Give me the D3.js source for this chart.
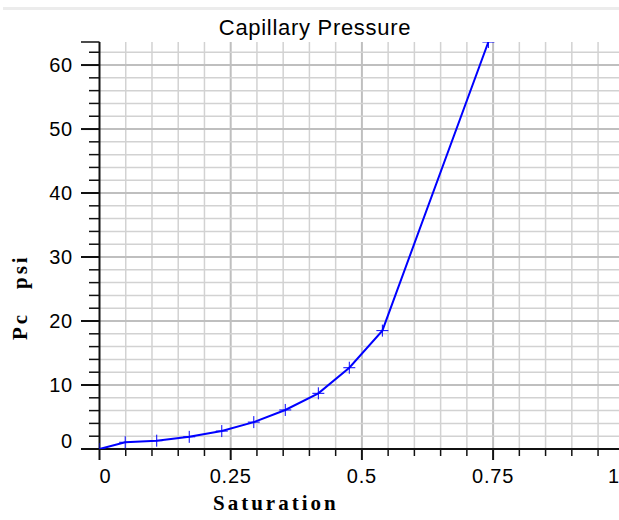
<!DOCTYPE html>
<html><head><meta charset="utf-8">
<script src="https://cdn.jsdelivr.net/npm/d3@7"></script>
<style>html,body{margin:0;padding:0;background:#fff;overflow:hidden}</style>
</head><body><svg id="c" width="619" height="520"></svg>
<script>
const saturation = [0, 0.049, 0.109, 0.171, 0.233, 0.294, 0.354, 0.417, 0.476, 0.539, 0.741];
const pc = [0, 1.05, 1.3, 1.9, 2.8, 4.2, 6.1, 8.7, 12.7, 18.5, 63.6];
const xTickValues = [0, 0.25, 0.5, 0.75, 1];
const xTickLabels = ["0", "0.25", "0.5", "0.75", "1"];
const yTickValues = [0, 10, 20, 30, 40, 50, 60];
const yTickLabels = ["0", "10", "20", "30", "40", "50", "60"];
const chartTitle = "Capillary Pressure";
const xTitle = "Saturation";
const yTitleParts = ["Pc", "psi"];

const svg = d3.select("#c");
const x = d3.scaleLinear().domain([0, 1]).range([99.5, 624.3]);
const y = d3.scaleLinear().domain([0, 63.6]).range([449, 42]);
const [x0, x1] = x.range();
const [yb, yt] = y.range();

svg.append("rect").attr("x", 3).attr("y", 7).attr("width", 616).attr("height", 3).attr("fill", "#ececec");

const isMult = (v, m) => Math.abs(v / m - Math.round(v / m)) < 1e-6;
const xMinor = d3.range(1, 21).map(i => +(i * 0.05).toFixed(4));
const yMinor = d3.range(1, 32).map(i => i * 2);

const grid = svg.append("g");
grid.selectAll("line.gv").data(xMinor).join("line")
  .attr("x1", d => x(d)).attr("x2", d => x(d)).attr("y1", yt).attr("y2", yb)
  .attr("stroke", d => isMult(d, 0.25) ? "#bfbfbf" : "#d2d2d2")
  .attr("stroke-width", d => isMult(d, 0.25) ? 2 : 1.5);
grid.selectAll("line.gh").data(yMinor).join("line")
  .attr("x1", x0).attr("x2", x1).attr("y1", d => y(d)).attr("y2", d => y(d))
  .attr("stroke", d => isMult(d, 10) ? "#bfbfbf" : "#d2d2d2")
  .attr("stroke-width", d => isMult(d, 10) ? 2 : 1.5);

// axes
const ax = svg.append("g").attr("stroke", "#111");
ax.append("line").attr("x1", x0).attr("x2", x0).attr("y1", yt).attr("y2", yb + 1).attr("stroke-width", 2);
ax.append("line").attr("x1", x0 - 1).attr("x2", x1).attr("y1", yb).attr("y2", yb).attr("stroke-width", 2);
ax.selectAll("line.ym").data([0].concat(yMinor)).join("line")
  .attr("x1", d => isMult(d, 10) ? 81 : 89).attr("x2", x0)
  .attr("y1", d => y(d)).attr("y2", d => y(d))
  .attr("stroke-width", d => isMult(d, 10) ? 2 : 1.5);
ax.append("line").attr("x1", 81).attr("x2", x0).attr("y1", yt).attr("y2", yt).attr("stroke-width", 1.5);
ax.selectAll("line.xm").data([0].concat(xMinor)).join("line")
  .attr("x1", d => x(d)).attr("x2", d => x(d))
  .attr("y1", yb).attr("y2", d => isMult(d, 0.25) ? 460 : 456)
  .attr("stroke-width", d => isMult(d, 0.25) ? 2 : 1.5);

const font = "'Liberation Sans', Arial, sans-serif";
svg.append("g").selectAll("text").data(yTickValues).join("text")
  .attr("x", 73).attr("y", (d, i) => y(d) + (i === 0 ? -8 : 0)).attr("dy", "0.36em")
  .attr("text-anchor", "end").attr("font-family", font).attr("font-size", 20)
  .attr("letter-spacing", 0.8).attr("fill", "#000")
  .text((d, i) => yTickLabels[i]);
const nX = xTickValues.length;
svg.append("g").selectAll("text").data(xTickValues).join("text")
  .attr("x", (d, i) => i === nX - 1 ? 619 : x(d)).attr("y", 482.7)
  .attr("text-anchor", (d, i) => i === 0 ? "start" : (i === nX - 1 ? "end" : "middle"))
  .attr("font-family", font).attr("font-size", 20)
  .attr("letter-spacing", (d, i) => i === nX - 1 ? 0 : 0.8).attr("fill", "#000")
  .text((d, i) => xTickLabels[i]);

svg.append("text").attr("x", 315).attr("y", 35).attr("text-anchor", "middle")
  .attr("font-family", font).attr("font-size", 22).attr("letter-spacing", 0.7).text(chartTitle);

const serif = "'Liberation Serif', 'Times New Roman', serif";
svg.append("text").attr("x", 213).attr("y", 510).attr("font-family", serif).attr("font-size", 21)
  .attr("font-weight", "bold").attr("letter-spacing", 3).text(xTitle);
svg.append("text").attr("transform", "translate(27,340) rotate(-90)").attr("font-family", serif).attr("font-size", 21)
  .attr("font-weight", "bold").attr("letter-spacing", 3).text(yTitleParts[0]);
svg.append("text").attr("transform", "translate(27,289) rotate(-90)").attr("font-family", serif).attr("font-size", 21)
  .attr("font-weight", "bold").attr("letter-spacing", 3).text(yTitleParts[1]);

svg.append("clipPath").attr("id", "pc").append("rect")
  .attr("x", x0).attr("y", yt).attr("width", x1 - x0).attr("height", yb - yt);
const pts = saturation.map((s, i) => [s, pc[i]]);
const plot = svg.append("g").attr("clip-path", "url(#pc)");
plot.append("path").datum(pts)
  .attr("d", d3.line().x(d => x(d[0])).y(d => y(d[1])))
  .attr("fill", "none").attr("stroke", "#0000ff").attr("stroke-width", 2);
plot.selectAll("path.m").data(pts).join("path")
  .attr("d", d => { const px = x(d[0]), py = y(d[1]); return `M${px - 6},${py}H${px + 6}M${px},${py - 6}V${py + 6}`; })
  .attr("stroke", "#0000ff").attr("stroke-width", 1).attr("fill", "none");
</script></body></html>
